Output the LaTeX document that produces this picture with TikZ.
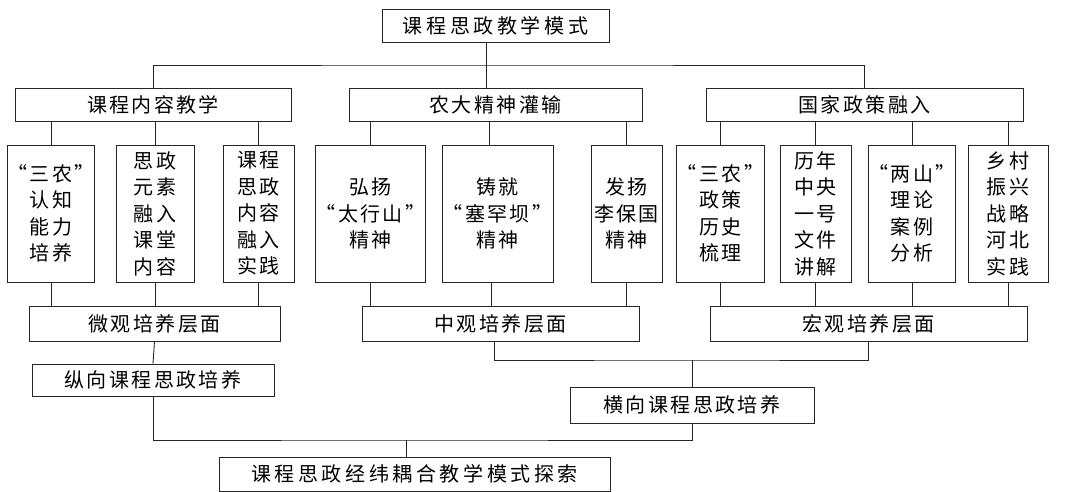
\documentclass[tikz,border=0pt]{standalone}
\usepackage{fontspec}
\setmainfont{Noto Sans CJK SC}[LetterSpace=12]
\newfontfamily\widecjk{Noto Sans CJK SC}[LetterSpace=18]
\tikzset{
  box/.style={draw=black!85, line width=0.9pt, inner sep=0pt, align=center,
    font=\fontsize{20}{26.5}\selectfont, text=black},
  conn/.style={draw=black!85, line width=0.9pt},
}
\begin{document}
\begin{tikzpicture}[x=1pt,y=-1pt]
\useasboundingbox[fill=white] (0,0) rectangle (1065,492);
% level 0
\node[box, minimum width=227pt, minimum height=33pt, font=\fontsize{20}{26}\widecjk] (top) at (495.5,25.5) {课程思政教学模式};
% level 1
\node[box, minimum width=276pt, minimum height=33pt] (L1a) at (153,104.5) {课程内容教学};
\node[box, minimum width=293pt, minimum height=33pt] (L1b) at (495.5,104.5) {农大精神灌输};
\node[box, minimum width=317pt, minimum height=33pt] (L1c) at (864.5,104.5) {国家政策融入};
% level 2
\node[box, minimum width=78pt, minimum height=137pt] (b1) at (51,213.5) {“三农”\\认知\\能力\\培养};
\node[box, minimum width=78pt, minimum height=137pt] (b2) at (155,213.5) {思政\\元素\\融入\\课堂\\内容};
\node[box, minimum width=71pt, minimum height=137pt] (b3) at (258.5,213.5) {课程\\思政\\内容\\融入\\实践};
\node[box, minimum width=93pt, minimum height=137pt] (b4) at (370.5,213.5) {弘扬\\“太行山”\\精神};
\node[box, minimum width=111pt, minimum height=137pt] (b5) at (497.5,213.5) {铸就\\“塞罕坝”\\精神};
\node[box, minimum width=71pt, minimum height=137pt] (b6) at (626.5,213.5) {发扬\\李保国\\精神};
\node[box, minimum width=79pt, minimum height=137pt] (b7) at (720.5,213.5) {“三农”\\政策\\历史\\梳理};
\node[box, minimum width=71pt, minimum height=137pt] (b8) at (815.5,213.5) {历年\\中央\\一号\\文件\\讲解};
\node[box, minimum width=78pt, minimum height=137pt] (b9) at (912,213.5) {“两山”\\理论\\案例\\分析};
\node[box, minimum width=80pt, minimum height=137pt] (b10) at (1008,213.5) {乡村\\振兴\\战略\\河北\\实践};
% level 3
\node[box, minimum width=251pt, minimum height=35pt] (m1) at (154.5,323.5) {微观培养层面};
\node[box, minimum width=277pt, minimum height=35pt] (m2) at (500.5,323.5) {中观培养层面};
\node[box, minimum width=317pt, minimum height=35pt] (m3) at (868.5,323.5) {宏观培养层面};
% level 4
\node[box, minimum width=242pt, minimum height=32pt] (v1) at (153,380) {纵向课程思政培养};
\node[box, minimum width=244pt, minimum height=36pt] (v2) at (692,405) {横向课程思政培养};
% final
\node[box, minimum width=391pt, minimum height=34pt, font=\fontsize{20}{26}\widecjk] (f) at (414.5,474) {课程思政经纬耦合教学模式探索};
% hubs
\coordinate (jt) at (486,65);
\coordinate (jm) at (692,360);
\coordinate (jb) at (406,440);
% connectors level 0 -> 1
\draw[conn] (jt |- top.south) -- (jt |- L1b.north);
\draw[conn] (L1a.north) |- (jt) -| (L1c.north);
% level 1 -> 2
\foreach \n in {b1,b2,b3} \draw[conn] (\n.north) -- (\n.north |- L1a.south);
\draw[conn] (b4.north) -- (b4.north |- L1b.south);
\draw[conn] ([xshift=-8pt]b5.north) -- ([xshift=-8pt]b5.north |- L1b.south);
\draw[conn] (b6.north) -- (b6.north |- L1b.south);
\foreach \n in {b7,b8,b9,b10} \draw[conn] (\n.north) -- (\n.north |- L1c.south);
% level 2 -> 3
\foreach \n in {b1,b2,b3} \draw[conn] (\n.south) -- (\n.south |- m1.north);
\draw[conn] (b4.south) -- (b4.south |- m2.north);
\draw[conn] ([xshift=-6.5pt]b5.south) -- ([xshift=-6.5pt]b5.south |- m2.north);
\draw[conn] (b6.south) -- (b6.south |- m2.north);
\foreach \n in {b7,b8,b9,b10} \draw[conn] (\n.south) -- (\n.south |- m3.north);
% level 3 -> 4
\draw[conn] (m1.south) -- (v1.north);
\draw[conn] ([xshift=-6.5pt]m2.south) |- (jm) -| (m3.south);
\draw[conn] (jm) -- (v2.north);
% level 4 -> final
\draw[conn] (v1.south) |- (jb) -| (v2.south);
\draw[conn] (jb) -- (jb |- f.north);
\end{tikzpicture}
\end{document}
